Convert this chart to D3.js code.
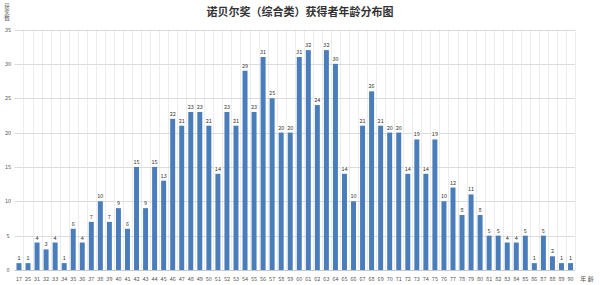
<!DOCTYPE html>
<html>
<head>
<meta charset="utf-8">
<script src="https://cdn.jsdelivr.net/npm/d3@7"></script>
<style>
body { margin: 0; background: #fff; }
svg { display: block; font-family: "Noto Sans CJK SC", "Noto Sans", sans-serif; }
</style>
</head>
<body>
<div id="chart"></div>
<script>
// ages (x categories) and number of laureates
const ages = ["17", "25", "31", "32", "33", "34", "35", "36", "37", "38", "39", "40", "41", "42", "43", "44",
	"45", "46", "47", "48", "49", "50", "51", "52", "53", "54", "55", "56", "57", "58", "59", "60",
	"61", "62", "63", "64", "65", "66", "67", "68", "69", "70", "71", "72", "73", "74", "75", "76",
	"77", "78", "79", "80", "81", "82", "83", "84", "85", "86", "87", "88", "89", "90"];
const counts = [1, 1, 4, 3, 4, 1, 6, 4, 7, 10, 7, 9, 6, 15, 9, 15,
	13, 22, 21, 23, 23, 21, 14, 23, 21, 29, 23, 31, 25, 20, 20, 31,
	32, 24, 32, 30, 14, 10, 21, 26, 21, 20, 20, 14, 19, 14, 19, 10,
	12, 8, 11, 8, 5, 5, 4, 4, 5, 1, 5, 2, 1, 1];
const yTicks = [0, 5, 10, 15, 20, 25, 30, 35];

const title = "诺贝尔奖（综合类）获得者年龄分布图";
const yTitle = "获奖数";
const xTitle = "年 龄";

const width = 600, height = 285;
const plotLeft = 14.5, plotRight = 575, plotTop = 29.5, plotBottom = 270;

const data = ages.map((a, i) => ({ age: a, n: counts[i] }));

const svg = d3.select("#chart").append("svg")
	.attr("width", width)
	.attr("height", height);

const x = d3.scaleBand()
	.domain(ages)
	.range([plotLeft, plotRight])
	.paddingInner(0.45)
	.paddingOuter(0.22);

const y = d3.scaleLinear()
	.domain([0, 35])
	.range([plotBottom, plotTop]);

// vertical category grid
const step = x.step();
svg.append("g")
	.selectAll("line")
	.data(ages)
	.enter()
	.append("line")
	.attr("x1", (d) => Math.round(x(d) + x.bandwidth() / 2 + step / 2) + 0.5)
	.attr("x2", (d) => Math.round(x(d) + x.bandwidth() / 2 + step / 2) + 0.5)
	.attr("y1", plotTop)
	.attr("y2", plotBottom)
	.attr("stroke", "#ececec")
	.attr("stroke-width", 1);

// horizontal grid
svg.append("g")
	.selectAll("line")
	.data(yTicks)
	.enter()
	.append("line")
	.attr("x1", plotLeft)
	.attr("x2", plotRight)
	.attr("y1", (d) => Math.round(y(d)) + 0.5)
	.attr("y2", (d) => Math.round(y(d)) + 0.5)
	.attr("stroke", (d) => (d == 0 ? "#c8c8c8" : "#dcdcdc"))
	.attr("stroke-width", 1);

// y axis labels
svg.append("g")
	.selectAll("text")
	.data(yTicks)
	.enter()
	.append("text")
	.attr("x", 8)
	.attr("y", (d) => y(d) + 2)
	.attr("text-anchor", "middle")
	.attr("font-size", 5.5)
	.attr("fill", "#555")
	.text((d) => d);

// bars
svg.append("g")
	.selectAll("rect")
	.data(data)
	.enter()
	.append("rect")
	.attr("x", (d) => x(d.age))
	.attr("y", (d) => y(d.n))
	.attr("width", x.bandwidth())
	.attr("height", (d) => y(0) - y(d.n))
	.attr("fill", "#4a7ebb");

// value labels
svg.append("g")
	.selectAll("text")
	.data(data)
	.enter()
	.append("text")
	.attr("x", (d) => x(d.age) + x.bandwidth() / 2)
	.attr("y", (d) => y(d.n) - 3)
	.attr("text-anchor", "middle")
	.attr("font-size", 5.5)
	.attr("fill", "#333")
	.attr("stroke", "#fff")
	.attr("stroke-width", 2)
	.attr("paint-order", "stroke")
	.text((d) => d.n);

// x axis labels
svg.append("g")
	.selectAll("text")
	.data(ages)
	.enter()
	.append("text")
	.attr("x", (d) => x(d) + x.bandwidth() / 2)
	.attr("y", 281)
	.attr("text-anchor", "middle")
	.attr("font-size", 5.5)
	.attr("fill", "#555")
	.text((d) => d);

// axis titles
svg.append("text")
	.attr("x", 587)
	.attr("y", 281)
	.attr("text-anchor", "middle")
	.attr("font-size", 6)
	.attr("fill", "#555")
	.text(xTitle);

svg.append("text")
	.attr("x", 7)
	.attr("y", 3)
	.attr("writing-mode", "vertical-rl")
	.attr("font-size", 5.5)
	.attr("letter-spacing", 0.5)
	.attr("fill", "#555")
	.text(yTitle);

// title
svg.append("text")
	.attr("x", 300)
	.attr("y", 16)
	.attr("text-anchor", "middle")
	.attr("font-size", 11)
	.attr("font-weight", "bold")
	.attr("fill", "#333")
	.text(title);
</script>
</body>
</html>
